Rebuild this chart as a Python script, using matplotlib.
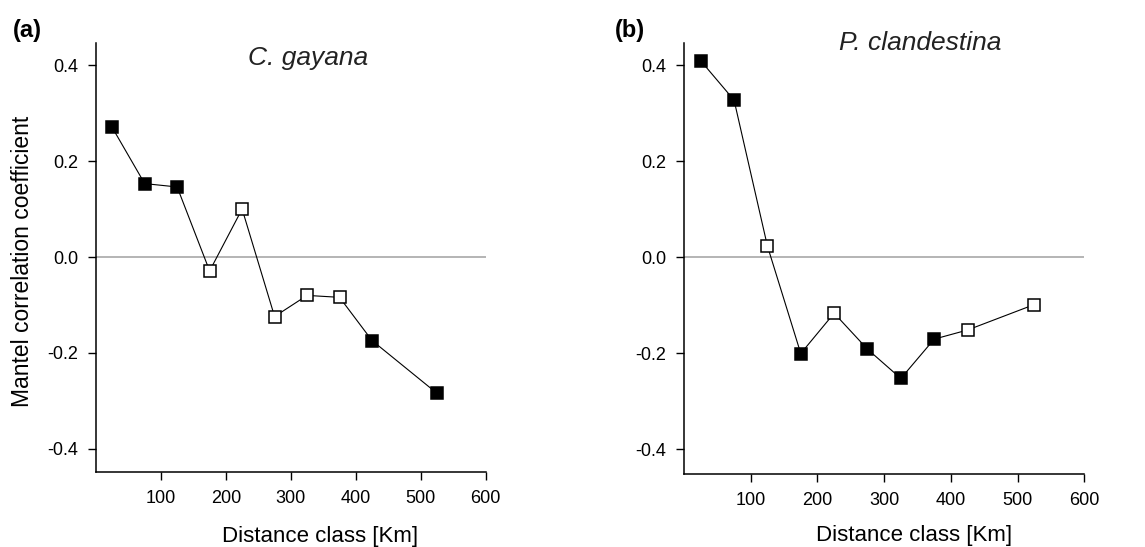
import matplotlib
matplotlib.use("Agg")
import matplotlib.pyplot as plt
from matplotlib.ticker import FuncFormatter

plt.rcParams["font.family"] = ["Liberation Sans", "DejaVu Sans"]

# distance classes (km, class midpoints)
dist = [25, 75, 125, 175, 225, 275, 325, 375, 425, 525]

# (a) C. gayana
gayana_r = [0.270, 0.153, 0.146, -0.029, 0.100, -0.124, -0.080, -0.084, -0.174, -0.284]
gayana_sig = [True, True, True, False, False, False, False, False, True, True]

# (b) P. clandestina
cland_r = [0.409, 0.327, 0.023, -0.201, -0.117, -0.192, -0.253, -0.171, -0.152, -0.099]
cland_sig = [True, True, False, True, False, True, True, True, False, False]

x_ticks = [100, 200, 300, 400, 500, 600]
y_ticks = [-0.4, -0.2, 0.0, 0.2, 0.4]

fig = plt.figure(figsize=(11.45, 5.47), dpi=100)
ax_a = fig.add_axes([0.0838, 0.1371, 0.3404, 0.7843])
ax_b = fig.add_axes([0.5974, 0.1335, 0.3496, 0.7879])

panels = [
    (ax_a, gayana_r, gayana_sig, "C. gayana", (-0.448, 0.446), 0.545, 0.965, -0.125),
    (ax_b, cland_r, cland_sig, "P. clandestina", (-0.452, 0.446), 0.59, 1.0, -0.118),
]

for ax, r, sig, title, ylim, title_x, title_y, xlab_y in panels:
    ax.axhline(0, color="#a0a0a0", lw=1.1, zorder=1)
    ax.plot(dist, r, color="black", lw=0.8, zorder=2)
    for x, y, s in zip(dist, r, sig):
        ax.plot(x, y, marker="s", ms=8, mew=1.1, mec="black",
                mfc="black" if s else "white", zorder=3)

    ax.set_xlim(0, 600)
    ax.set_ylim(*ylim)
    ax.set_xticks(x_ticks)
    ax.set_yticks(y_ticks)
    ax.yaxis.set_major_formatter(FuncFormatter(lambda v, p: "%.1f" % v if abs(v) > 1e-9 else "0.0"))
    ax.tick_params(axis="both", labelsize=13, length=6, width=1, pad=7, direction="out")

    for side in ["top", "right"]:
        ax.spines[side].set_visible(False)
    for side in ["left", "bottom"]:
        ax.spines[side].set_linewidth(1.1)

    ax.set_xlabel("Distance class [Km]", fontsize=16)
    ax.xaxis.set_label_coords(0.575, xlab_y)

    ax.text(title_x, title_y, title, transform=ax.transAxes, fontsize=19,
            style="italic", ha="center", va="center", color="#222222")

ax_a.set_ylabel("Mantel correlation coefficient", fontsize=16.5)
ax_a.yaxis.set_label_coords(-0.16, 0.49)

fig.text(0.011, 0.945, "(a)", fontsize=17, fontweight="bold", va="center", ha="left")
fig.text(0.537, 0.945, "(b)", fontsize=17, fontweight="bold", va="center", ha="left")

fig.savefig("out.png", dpi=100)
